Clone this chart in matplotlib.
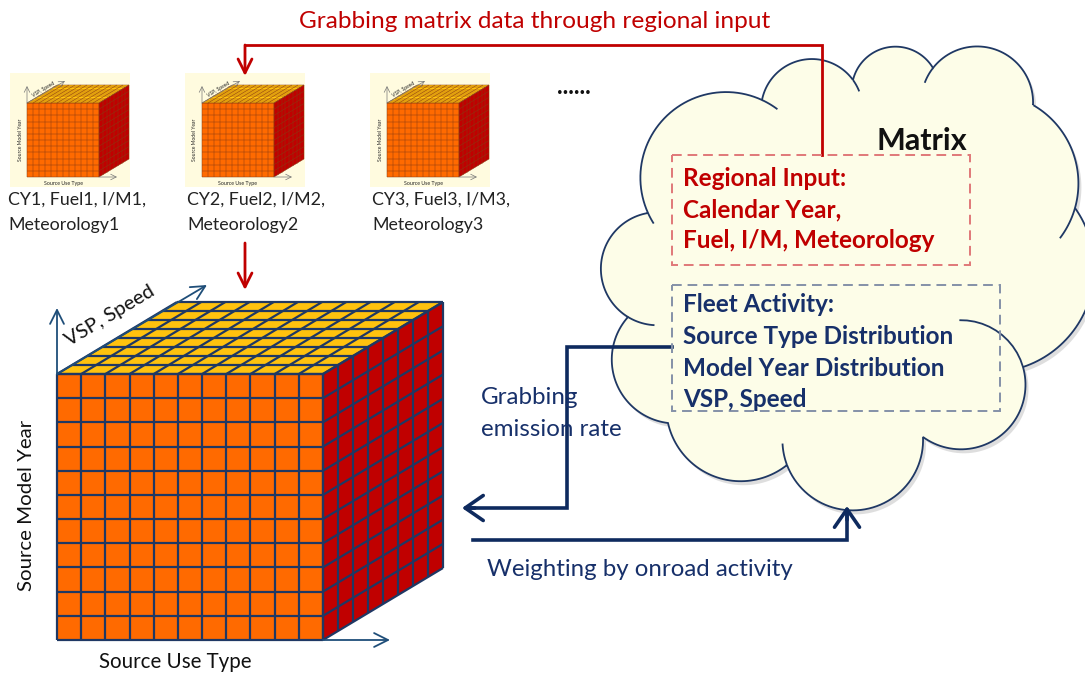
import matplotlib
matplotlib.use("Agg")
import matplotlib.pyplot as plt
from matplotlib.patches import Polygon, Rectangle, FancyArrowPatch
import numpy as np

# ---------------- data / texts ----------------
title_text = "Grabbing matrix data through regional input"
small_cube_labels = [["CY1, Fuel1, I/M1,", "Meteorology1"],
                     ["CY2, Fuel2, I/M2,", "Meteorology2"],
                     ["CY3, Fuel3, I/M3,", "Meteorology3"]]
cube_axis_labels = ["Source Model Year", "Source Use Type", "VSP, Speed"]
big_grid = [11, 11, 8]      # columns, rows, depth
small_grid = [12, 12, 8]
matrix_title = "Matrix"
regional_lines = ["Regional Input:", "Calendar Year,", "Fuel, I/M, Meteorology"]
fleet_lines = ["Fleet Activity:", "Source Type Distribution",
               "Model Year Distribution", "VSP, Speed"]
grab_label = ["Grabbing", "emission rate"]
weight_label = "Weighting by onroad activity"

FONT = "Lato"
RED = "#C00000"
NAVY = "#17306A"
GRID = "#1F3864"
ORANGE = "#FF6A00"
YELLOW = "#FFC20E"
DARKRED = "#C00000"
CREAM = "#FDFDE8"

fig = plt.figure(figsize=(10.85, 6.75), dpi=100)
ax = fig.add_axes([0, 0, 1, 1])
ax.set_xlim(0, 1085)
ax.set_ylim(675, 0)
ax.axis("off")


def draw_cube(x0, y0, w, h, dx, dy, grid, lw, gcol, z=5):
    nx, ny, nz = grid
    front = Polygon([(x0, y0), (x0 + w, y0), (x0 + w, y0 + h), (x0, y0 + h)],
                    closed=True, facecolor=ORANGE, edgecolor="none", zorder=z)
    top = Polygon([(x0, y0), (x0 + w, y0), (x0 + w + dx, y0 + dy), (x0 + dx, y0 + dy)],
                  closed=True, facecolor=YELLOW, edgecolor="none", zorder=z)
    side = Polygon([(x0 + w, y0), (x0 + w + dx, y0 + dy), (x0 + w + dx, y0 + h + dy),
                    (x0 + w, y0 + h)], closed=True, facecolor=DARKRED,
                   edgecolor="none", zorder=z)
    for p in (front, top, side):
        ax.add_patch(p)
    kw = dict(color=gcol, lw=lw, zorder=z + 1, solid_capstyle="butt")
    for i in range(nx + 1):
        x = x0 + i * w / nx
        ax.plot([x, x], [y0, y0 + h], **kw)
        ax.plot([x, x + dx], [y0, y0 + dy], **kw)
    for j in range(ny + 1):
        y = y0 + j * h / ny
        ax.plot([x0, x0 + w], [y, y], **kw)
        ax.plot([x0 + w, x0 + w + dx], [y, y + dy], **kw)
    for k in range(nz + 1):
        ox, oy = k * dx / nz, k * dy / nz
        ax.plot([x0 + ox, x0 + w + ox], [y0 + oy, y0 + oy], **kw)
        ax.plot([x0 + w + ox, x0 + w + ox], [y0 + oy, y0 + h + oy], **kw)


def arrow(p0, p1, color, lw, hl, hw, z=6):
    a = FancyArrowPatch(p0, p1, arrowstyle=f"->,head_length={hl},head_width={hw}",
                        color=color, lw=lw, mutation_scale=10, zorder=z,
                        shrinkA=0, shrinkB=0)
    ax.add_patch(a)


# ---------------- big cube ----------------
bx0, by0, bw, bh, bdx, bdy = 57, 374, 266, 266, 120, -72
draw_cube(bx0, by0, bw, bh, bdx, bdy, big_grid, 1.6, GRID)
axc = "#1F4E79"
arrow((bx0, by0), (bx0, 308), axc, 1.3, 1.0, 0.5)
arrow((bx0, by0), (207, 285), axc, 1.3, 1.0, 0.5)
arrow((bx0 + bw, by0 + bh), (390, by0 + bh), axc, 1.3, 1.0, 0.5)
ax.text(27, 505, cube_axis_labels[0], rotation=90, ha="center", va="center",
        fontsize=14.7, family=FONT, color="#111111")
ax.text(175, 662, cube_axis_labels[1], ha="center", va="center",
        fontsize=14.8, family=FONT, color="#111111")
ax.text(110, 316, cube_axis_labels[2], rotation=31, ha="center", va="center",
        fontsize=14.5, family=FONT, color="#111111", rotation_mode="anchor")

# ---------------- small cubes ----------------
small_x = [27, 202, 387]
label_x = [8, 187, 372]
sy0, sw, sh, sdx, sdy = 103, 72, 74, 30, -18
for i in range(3):
    x0 = small_x[i]
    ax.add_patch(Rectangle((x0 - 17, 73), 120, 114, facecolor="#FFFBDF",
                           edgecolor="none", zorder=4))
    draw_cube(x0, sy0, sw, sh, sdx, sdy, small_grid, 0.35, "#8A3A12")
    arrow((x0, sy0), (x0, 86), "#777777", 0.5, 0.4, 0.2)
    arrow((x0, sy0), (x0 + 38, 81), "#777777", 0.5, 0.4, 0.2)
    arrow((x0 + sw, sy0 + sh), (x0 + sw + 18, sy0 + sh), "#777777", 0.5, 0.4, 0.2)
    ax.text(x0 - 7, 140, cube_axis_labels[0], rotation=90, ha="center",
            va="center", fontsize=3.6, family=FONT, color="#222222", zorder=7)
    ax.text(x0 + 36, 183, cube_axis_labels[1], ha="center", va="center",
            fontsize=3.8, family=FONT, color="#222222", zorder=7)
    ax.text(x0 + 17, 89, cube_axis_labels[2], rotation=31, ha="center",
            va="center", fontsize=3.6, family=FONT, color="#222222", zorder=7,
            rotation_mode="anchor")
    ax.text(label_x[i], 200, small_cube_labels[i][0], ha="left", va="center",
            fontsize=12.8, family=FONT, color="#222222")
    ax.text(label_x[i], 225, small_cube_labels[i][1], ha="left", va="center",
            fontsize=12.8, family=FONT, color="#222222")

ax.text(574, 86, "......", ha="center", va="center", fontsize=17,
        fontweight="bold", family=FONT, color="#111111")

# ---------------- cloud ----------------
# each lobe: start junction, a point on the bulge, end junction, stub extension (px) at start/end
cloud_lobes = [
    ((648, 213), (690, 100), (762, 100), 12, 18),
    ((762, 100), (802, 60), (853, 80), 0, 13),
    ((853, 80), (890, 47), (933, 68), 0, 0),
    ((933, 68), (985, 47), (1033, 105), 17, 0),
    ((1033, 105), (1072, 150), (1075, 208), 0, 34),
    ((1075, 208), (1092, 290), (1023, 367), 0, 0),
    ((1023, 367), (978, 447), (923, 437), 85, 0),
    ((923, 437), (860, 510), (787, 465), 0, 22),
    ((787, 465), (735, 481), (668, 423), 0, 0),
    ((668, 423), (612, 365), (628, 317), 0, 0),
    ((628, 317), (601, 265), (648, 213), 28, 0),
]


def circle3(p1, p2, p3):
    (x1, y1), (x2, y2), (x3, y3) = p1, p2, p3
    d = 2 * (x1 * (y2 - y3) + x2 * (y3 - y1) + x3 * (y1 - y2))
    ux = ((x1**2 + y1**2) * (y2 - y3) + (x2**2 + y2**2) * (y3 - y1)
          + (x3**2 + y3**2) * (y1 - y2)) / d
    uy = ((x1**2 + y1**2) * (x3 - x2) + (x2**2 + y2**2) * (x1 - x3)
          + (x3**2 + y3**2) * (x2 - x1)) / d
    return ux, uy, np.hypot(x1 - ux, y1 - uy)


def lobe_arc(p0, pm, p1, e0, e1, n=50):
    cx, cy, r = circle3(p0, pm, p1)
    a0 = np.arctan2(p0[1] - cy, p0[0] - cx)
    am = np.arctan2(pm[1] - cy, pm[0] - cx)
    a1 = np.arctan2(p1[1] - cy, p1[0] - cx)
    span = (a1 - a0) % (2 * np.pi)
    if (am - a0) % (2 * np.pi) < span:
        sgn = 1
    else:
        sgn = -1
        span = 2 * np.pi - span
    t = a0 + sgn * np.linspace(0, span, n)
    main = np.column_stack([cx + r * np.cos(t), cy + r * np.sin(t)])
    stubs = []
    if e0 > 0:
        ts = a0 - sgn * np.linspace(0, e0 / r, 12)
        stubs.append(np.column_stack([cx + r * np.cos(ts), cy + r * np.sin(ts)]))
    if e1 > 0:
        ts = a0 + sgn * (span + np.linspace(0, e1 / r, 12))
        stubs.append(np.column_stack([cx + r * np.cos(ts), cy + r * np.sin(ts)]))
    return main, stubs


outline = []
all_stubs = []
for p0, pm, p1, e0, e1 in cloud_lobes:
    m, s = lobe_arc(p0, pm, p1, e0, e1)
    outline.append(m)
    all_stubs += s
outline = np.vstack(outline)
ax.add_patch(Polygon(outline + np.array([3, 4]), closed=True, facecolor="#C9C9C9",
                     edgecolor="none", alpha=0.6, zorder=0.5))
ax.add_patch(Polygon(outline, closed=True, facecolor=CREAM, edgecolor=GRID,
                     lw=1.3, zorder=1))
for s in all_stubs:
    ax.plot(s[:, 0], s[:, 1], color=GRID, lw=1.3, zorder=2, solid_capstyle="butt")

ax.text(967, 141, matrix_title, ha="right", va="center", fontsize=22,
        fontweight="bold", family=FONT, color="#111111", zorder=8)

ax.add_patch(Rectangle((672, 155), 298, 110, facecolor="none", edgecolor="#E07878",
                       lw=1.4, ls=(0, (5, 3)), zorder=7))
ax.add_patch(Rectangle((672, 285), 328, 126, facecolor="none", edgecolor="#8491A8",
                       lw=1.4, ls=(0, (5, 3)), zorder=7))
for k, t in enumerate(regional_lines):
    ax.text(683, 179 + 31 * k, t, ha="left", va="center", fontsize=17.5,
            fontweight="bold", family=FONT, color=RED, zorder=8)
for k, t in enumerate(fleet_lines):
    ax.text(683, 305 + 31.5 * k, t, ha="left", va="center", fontsize=17.5,
            fontweight="bold", family=FONT, color=NAVY, zorder=8)

# ---------------- connectors ----------------
ax.plot([822, 822, 245], [155, 45, 45], color=RED, lw=2, zorder=6,
        solid_joinstyle="miter")
arrow((245, 45), (245, 76), RED, 2, 1.0, 0.5)
arrow((245, 243), (245, 290), RED, 2, 1.0, 0.5)
ax.text(535, 22, title_text, ha="center", va="center", fontsize=17.6,
        family=FONT, color=RED)

AC = "#0E2A5E"
ax.plot([672, 567, 567, 468], [347, 347, 508, 508], color=AC, lw=2.6, zorder=6,
        solid_joinstyle="miter")
arrow((475, 508), (462, 508), AC, 2.6, 1.3, 0.9)
ax.plot([473, 847, 847], [540, 540, 515], color=AC, lw=2.6, zorder=6,
        solid_joinstyle="miter")
arrow((847, 520), (847, 506), AC, 2.6, 1.3, 0.9)

ax.text(481, 398, grab_label[0], ha="left", va="center", fontsize=17.4,
        family=FONT, color=NAVY, zorder=9)
ax.text(481, 430, grab_label[1], ha="left", va="center", fontsize=17.4,
        family=FONT, color=NAVY, zorder=9)
ax.text(487, 570, weight_label, ha="left", va="center", fontsize=17.3,
        family=FONT, color=NAVY, zorder=9)

fig.savefig("out.png", dpi=100)
